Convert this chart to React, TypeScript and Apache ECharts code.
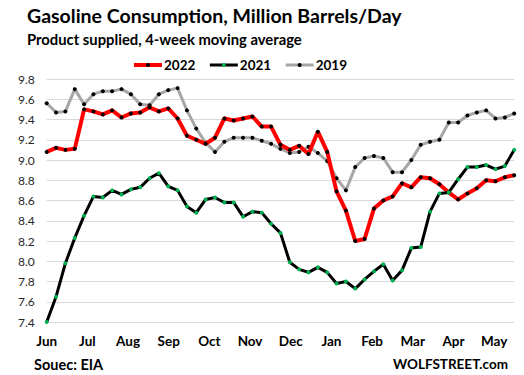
import React, { useEffect, useRef } from "react";
import * as echarts from "echarts";

const months = ["Jun", "Jul", "Aug", "Sep", "Oct", "Nov", "Dec", "Jan", "Feb", "Mar", "Apr", "May"];
const weeksPerMonth = 4.35;

const y2022 = [
  9.08, 9.12, 9.10, 9.11, 9.50, 9.48, 9.45, 9.49, 9.42, 9.46,
  9.47, 9.52, 9.48, 9.51, 9.41, 9.24, 9.20, 9.16, 9.22, 9.41,
  9.39, 9.41, 9.43, 9.33, 9.33, 9.15, 9.10, 9.14, 9.06, 9.28,
  9.08, 8.69, 8.50, 8.20, 8.22, 8.52, 8.60, 8.64, 8.77, 8.73,
  8.83, 8.82, 8.76, 8.68, 8.61, 8.67, 8.72, 8.80, 8.79, 8.83,
  8.85,
];
const y2021 = [
  7.40, 7.65, 7.98, 8.23, 8.45, 8.64, 8.63, 8.70, 8.66, 8.71,
  8.73, 8.82, 8.87, 8.74, 8.70, 8.54, 8.48, 8.61, 8.63, 8.58,
  8.58, 8.44, 8.49, 8.48, 8.37, 8.28, 7.99, 7.92, 7.89, 7.94,
  7.89, 7.78, 7.80, 7.73, 7.82, 7.90, 7.97, 7.81, 7.91, 8.13,
  8.14, 8.49, 8.67, 8.68, 8.81, 8.93, 8.93, 8.95, 8.91, 8.94,
  9.10,
];
const y2019 = [
  9.56, 9.47, 9.48, 9.70, 9.55, 9.65, 9.68, 9.68, 9.70, 9.65,
  9.55, 9.54, 9.65, 9.69, 9.71, 9.49, 9.31, 9.17, 9.08, 9.18,
  9.22, 9.22, 9.22, 9.19, 9.16, 9.11, 9.07, 9.08, 9.13, 9.07,
  8.99, 8.82, 8.70, 8.93, 9.02, 9.04, 9.02, 8.88, 8.88, 9.00,
  9.15, 9.18, 9.20, 9.37, 9.37, 9.44, 9.47, 9.49, 9.41, 9.42,
  9.46,
];

const FONT = "Lato";

export default function App() {
  const ref = useRef<HTMLDivElement>(null);
  useEffect(() => {
    if (!ref.current) return;
    const chart = echarts.init(ref.current, null, { renderer: "svg" });
    const toPairs = (arr: number[]) => arr.map((v, i) => [i, v]);
    chart.setOption({
      animation: false,
      backgroundColor: "#ffffff",
      textStyle: { fontFamily: FONT },
      title: [
        {
          text: "Gasoline Consumption, Million Barrels/Day",
          left: 22,
          top: 0,
          textStyle: { fontFamily: FONT, fontSize: 19.5, fontWeight: "bold", color: "#000" },
        },
        {
          text: "Product supplied, 4-week moving average",
          left: 22,
          top: 26,
          textStyle: { fontFamily: FONT, fontSize: 14.8, fontWeight: "bold", color: "#000" },
        },
        {
          text: "Souec: EIA",
          left: 29,
          top: 352,
          textStyle: { fontFamily: FONT, fontSize: 14.5, fontWeight: "bold", color: "#000" },
        },
        {
          text: "WOLFSTREET.com",
          right: 11,
          top: 352,
          textStyle: { fontFamily: FONT, fontSize: 13.5, fontWeight: "bold", color: "#000" },
        },
      ],
      legend: {
        left: 127,
        top: 53,
        itemWidth: 28,
        itemHeight: 5,
        itemGap: 13,
        data: [
          { name: "2022", lineStyle: { color: "#ff0000", width: 4 }, itemStyle: { color: "#000000" } },
          { name: "2021", lineStyle: { color: "#000000", width: 3 }, itemStyle: { color: "#00b050" } },
          { name: "2019", lineStyle: { color: "#a6a6a6", width: 3 }, itemStyle: { color: "#000000" } },
        ],
        textStyle: { fontFamily: FONT, fontSize: 13.5, fontWeight: "bold", color: "#000", padding: [0, 0, 0, -3] },
      },
      grid: { left: 46.7, right: 9.8, top: 79, bottom: 53, containLabel: false },
      xAxis: {
        type: "value",
        min: 0,
        max: 50,
        interval: weeksPerMonth,
        axisLine: { show: false },
        axisTick: { show: false },
        splitLine: { show: false },
        axisLabel: {
          margin: 12,
          fontFamily: FONT,
          fontSize: 13.5,
          fontWeight: "bold",
          color: "#000",
          showMaxLabel: false,
          formatter: (v: number) => {
            const k = Math.round(v / weeksPerMonth);
            if (Math.abs(v / weeksPerMonth - k) > 0.01) return "";
            return months[k] ?? "";
          },
        },
      },
      yAxis: {
        type: "value",
        min: 7.4,
        max: 9.8,
        interval: 0.2,
        axisLine: { show: false },
        axisTick: { show: false },
        splitLine: { lineStyle: { color: "#d9d9d9", width: 1 } },
        axisLabel: {
          margin: 12,
          fontFamily: FONT,
          fontSize: 12,
          color: "#262626",
          formatter: (v: number) => v.toFixed(1),
        },
      },
      series: [
        {
          name: "2022",
          type: "line",
          z: 3,
          data: toPairs(y2022),
          symbol: "circle",
          symbolSize: 4,
          lineStyle: { color: "#ff0000", width: 4 },
          itemStyle: { color: "#000000", borderWidth: 0 },
        },
        {
          name: "2021",
          type: "line",
          z: 4,
          data: toPairs(y2021),
          symbol: "circle",
          symbolSize: 4,
          lineStyle: { color: "#000000", width: 3 },
          itemStyle: { color: "#00b050", borderWidth: 0 },
        },
        {
          name: "2019",
          type: "line",
          z: 2,
          data: toPairs(y2019),
          symbol: "circle",
          symbolSize: 4,
          lineStyle: { color: "#a6a6a6", width: 3 },
          itemStyle: { color: "#000000", borderWidth: 0 },
        },
      ],
    });
    return () => chart.dispose();
  }, []);
  return <div ref={ref} style={{ width: 524, height: 375, position: "absolute", left: 0, top: 0 }} />;
}
